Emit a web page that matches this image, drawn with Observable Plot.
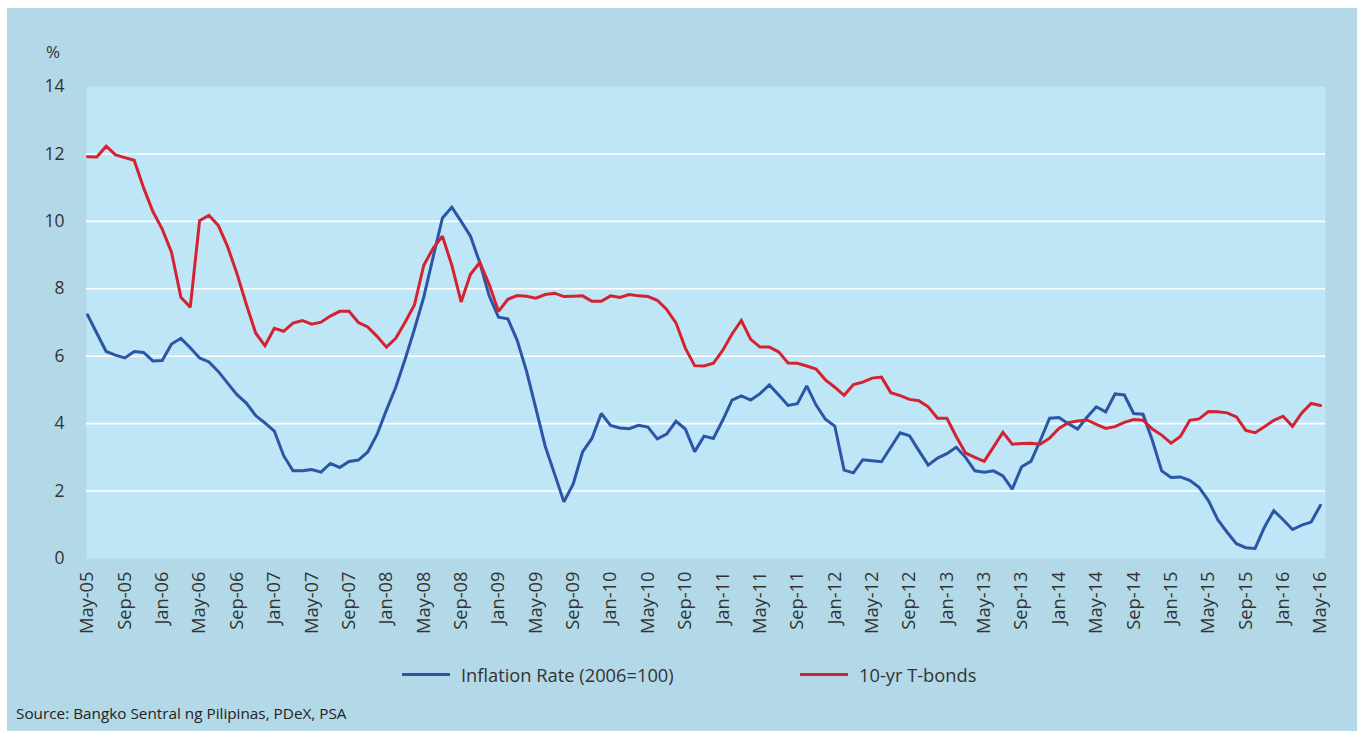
<!DOCTYPE html>
<html>
<head>
<meta charset="utf-8">
<script src="https://cdn.jsdelivr.net/npm/d3@7"></script>
<script src="https://cdn.jsdelivr.net/npm/@observablehq/plot@0.6"></script>
<style>
  html, body { margin: 0; padding: 0; background: #ffffff; width: 1357px; height: 731px; overflow: hidden; font-family: "Open Sans", sans-serif; }
  #panel { position: absolute; left: 7px; top: 8px; width: 1350px; height: 723px; background: #b3d8e7; }
  #chart { position: absolute; left: 0; top: 0; }
  #pct { position: absolute; left: 46px; top: 40px; font-size: 17px; color: #333; }
  .leg { position: absolute; top: 662px; font-size: 18.3px; color: #333; display: flex; align-items: center; }
  .sw { width: 48px; height: 3px; margin-right: 11px; }
  #source { position: absolute; left: 16px; top: 703px; font-size: 15.3px; color: #222; }
</style>
</head>
<body>
<div id="panel"></div>
<div id="chart"></div>
<div id="pct">%</div>
<div class="leg" style="left:402px"><div class="sw" style="background:#2a56a5"></div><span id="leg1"></span></div>
<div class="leg" style="left:800px"><div class="sw" style="background:#d42230"></div><span id="leg2"></span></div>
<div id="source"></div>
<script>
// Series names
const seriesNames = ["Inflation Rate (2006=100)", "10-yr T-bonds"];
const seriesColors = ["#2a56a5", "#d42230"];

// Monthly values, May-05 to May-16 (133 months)
const inflation = [
  7.23, 6.68, 6.14, 6.03, 5.95, 6.14, 6.11, 5.86, 5.87, 6.36, 6.53, 6.25, 5.95, 5.83, 5.55, 5.20, 4.86, 4.61, 4.24, 4.02,
  3.78, 3.05, 2.60, 2.60, 2.64, 2.56, 2.82, 2.70, 2.88, 2.92, 3.16, 3.68, 4.40, 5.08, 5.91, 6.80, 7.75, 8.94, 10.10, 10.42,
  10.00, 9.56, 8.77, 7.79, 7.16, 7.11, 6.47, 5.56, 4.45, 3.33, 2.51, 1.68, 2.21, 3.16, 3.56, 4.30, 3.95, 3.87, 3.85, 3.95,
  3.90, 3.55, 3.69, 4.07, 3.84, 3.17, 3.63, 3.56, 4.10, 4.70, 4.82, 4.70, 4.89, 5.15, 4.85, 4.54, 4.59, 5.12, 4.55, 4.13,
  3.93, 2.62, 2.54, 2.93, 2.90, 2.87, 3.30, 3.73, 3.64, 3.20, 2.77, 2.98, 3.11, 3.30, 3.00, 2.60, 2.56, 2.60, 2.45, 2.06,
  2.72, 2.88, 3.50, 4.16, 4.18, 4.00, 3.84, 4.19, 4.50, 4.35, 4.88, 4.85, 4.30, 4.28, 3.50, 2.60, 2.40, 2.42, 2.32, 2.11,
  1.72, 1.15, 0.78, 0.44, 0.32, 0.30, 0.93, 1.42, 1.15, 0.86, 0.99, 1.08, 1.58
];
const tbonds = [
  11.92, 11.91, 12.23, 11.97, 11.89, 11.81, 11.00, 10.29, 9.77, 9.08, 7.75, 7.45, 10.02, 10.18, 9.88, 9.25, 8.45, 7.54, 6.69, 6.31,
  6.83, 6.74, 6.98, 7.06, 6.95, 7.01, 7.19, 7.33, 7.33, 7.00, 6.87, 6.59, 6.27, 6.53, 7.01, 7.52, 8.70, 9.20, 9.56, 8.70,
  7.61, 8.43, 8.78, 8.13, 7.33, 7.69, 7.80, 7.78, 7.72, 7.83, 7.87, 7.77, 7.78, 7.79, 7.63, 7.63, 7.79, 7.74, 7.83, 7.79,
  7.77, 7.66, 7.39, 6.99, 6.24, 5.72, 5.71, 5.79, 6.17, 6.66, 7.06, 6.50, 6.27, 6.27, 6.13, 5.80, 5.79, 5.71, 5.62, 5.30,
  5.08, 4.84, 5.16, 5.23, 5.35, 5.38, 4.92, 4.83, 4.72, 4.68, 4.50, 4.16, 4.16, 3.62, 3.13, 3.00, 2.88, 3.31, 3.74, 3.39,
  3.41, 3.42, 3.39, 3.57, 3.86, 4.03, 4.08, 4.11, 3.98, 3.86, 3.91, 4.04, 4.12, 4.10, 3.84, 3.66, 3.42, 3.62, 4.10, 4.14,
  4.36, 4.35, 4.32, 4.20, 3.80, 3.73, 3.91, 4.10, 4.22, 3.92, 4.32, 4.60, 4.54
];

// Axis tick labels (every 4 months)
const xTickLabels = [
  "May-05","Sep-05","Jan-06","May-06","Sep-06","Jan-07","May-07","Sep-07","Jan-08","May-08","Sep-08","Jan-09",
  "May-09","Sep-09","Jan-10","May-10","Sep-10","Jan-11","May-11","Sep-11","Jan-12","May-12","Sep-12","Jan-13",
  "May-13","Sep-13","Jan-14","May-14","Sep-14","Jan-15","May-15","Sep-15","Jan-16","May-16"
];
const yTicks = [0, 2, 4, 6, 8, 10, 12, 14];
const gridValues = [2, 4, 6, 8, 10, 12];
const sourceText = "Source: Bangko Sentral ng Pilipinas, PDeX, PSA";

const rows = [];
inflation.forEach((v, i) => rows.push({month: i, value: v, series: seriesNames[0]}));
tbonds.forEach((v, i) => rows.push({month: i, value: v, series: seriesNames[1]}));
const xTicks = xTickLabels.map((_, k) => k * 4);
const xFormat = d => xTickLabels[Math.round(d / 4)];

const chart = Plot.plot({
  width: 1357,
  height: 650,
  marginLeft: 86,
  marginRight: 32,
  marginTop: 86,
  marginBottom: 92,
  style: {fontFamily: "'Open Sans', sans-serif", fontSize: "17px", color: "#333", background: "transparent", overflow: "visible"},
  x: {type: "linear", domain: [-0.107, 132.535]},
  y: {domain: [0, 14]},
  color: {domain: seriesNames, range: seriesColors},
  marks: [
    Plot.frame({fill: "#bee6f7", stroke: "none"}),
    Plot.ruleY(gridValues, {stroke: "#ffffff", strokeWidth: 1.6}),
    Plot.axisY({ticks: yTicks, tickSize: 0, tickPadding: 22, label: null, fontSize: 17.5}),
    Plot.axisX({ticks: xTicks, tickFormat: xFormat, tickSize: 0, tickPadding: 13, tickRotate: -90, label: null, fontSize: 18.3}),
    Plot.line(rows, {x: "month", y: "value", z: "series", stroke: "series", strokeWidth: 3, strokeLinejoin: "miter", strokeMiterlimit: 2})
  ]
});
document.getElementById("chart").appendChild(chart);
document.getElementById("leg1").textContent = seriesNames[0];
document.getElementById("leg2").textContent = seriesNames[1];
document.getElementById("source").textContent = sourceText;
</script>
</body>
</html>
